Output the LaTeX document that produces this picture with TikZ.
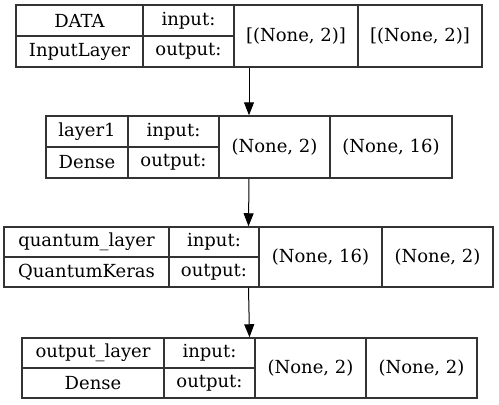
\documentclass[tikz,border=0pt]{standalone}
\usepackage{fontspec}
\setmainfont{DejaVu Serif}
\usetikzlibrary{arrows.meta, fit}

\tikzset{
  cell/.style={draw=black!80, line width=1.1pt, inner sep=0pt, font=\fontsize{18}{20}\selectfont},
  layerbox/.style={inner sep=0pt, draw=none},
  flow/.style={line width=1pt, -{Triangle[length=13pt, width=10pt]}}
}

\begin{document}
\begin{tikzpicture}[x=1pt,y=-1pt]
		\useasboundingbox (0,0) rectangle (499,405);
		% DATA
		\node[cell, minimum width=127pt, minimum height=31pt] (dname) at (79.5,20.5) {DATA};
		\node[cell, minimum width=127pt, minimum height=31pt] (dtype) at (79.5,51.5) {InputLayer};
		\node[cell, minimum width=91pt, minimum height=31pt] (din) at (188.5,20.5) {input:};
		\node[cell, minimum width=91pt, minimum height=31pt] (dout) at (188.5,51.5) {output:};
		\node[cell, minimum width=124pt, minimum height=62pt] (dinshape) at (296,36) {[(None, 2)]};
		\node[cell, minimum width=124pt, minimum height=62pt] (doutshape) at (420,36) {[(None, 2)]};
		\node[layerbox, fit=(dname)(doutshape)] (data) {};
		% layer1
		\node[cell, minimum width=82pt, minimum height=31pt] (lname) at (87,131.5) {layer1};
		\node[cell, minimum width=82pt, minimum height=31pt] (ltype) at (87,162.5) {Dense};
		\node[cell, minimum width=91pt, minimum height=31pt] (lin) at (173.5,131.5) {input:};
		\node[cell, minimum width=91pt, minimum height=31pt] (lout) at (173.5,162.5) {output:};
		\node[cell, minimum width=111pt, minimum height=62pt] (linshape) at (274.5,147) {(None, 2)};
		\node[cell, minimum width=122pt, minimum height=62pt] (loutshape) at (391,147) {(None, 16)};
		\node[layerbox, fit=(lname)(loutshape)] (layer1) {};
		% quantum_layer
		\node[cell, minimum width=165pt, minimum height=30pt] (qname) at (86.5,242) {quantum\_layer};
		\node[cell, minimum width=165pt, minimum height=30pt] (qtype) at (86.5,272) {QuantumKeras};
		\node[cell, minimum width=90pt, minimum height=30pt] (qin) at (214,242) {input:};
		\node[cell, minimum width=90pt, minimum height=30pt] (qout) at (214,272) {output:};
		\node[cell, minimum width=123pt, minimum height=60pt] (qinshape) at (320.5,257) {(None, 16)};
		\node[cell, minimum width=111pt, minimum height=60pt] (qoutshape) at (437.5,257) {(None, 2)};
		\node[layerbox, fit=(qname)(qoutshape)] (quantum) {};
		% output_layer
		\node[cell, minimum width=142pt, minimum height=30pt] (oname) at (93,353) {output\_layer};
		\node[cell, minimum width=142pt, minimum height=30pt] (otype) at (93,383) {Dense};
		\node[cell, minimum width=91pt, minimum height=30pt] (oin) at (209.5,353) {input:};
		\node[cell, minimum width=91pt, minimum height=30pt] (oout) at (209.5,383) {output:};
		\node[cell, minimum width=111pt, minimum height=60pt] (oinshape) at (310.5,368) {(None, 2)};
		\node[cell, minimum width=111pt, minimum height=60pt] (ooutshape) at (421.5,368) {(None, 2)};
		\node[layerbox, fit=(oname)(ooutshape)] (output) {};
		% arrows
		\draw[flow] (data.south) -- (layer1.north);
		\draw[flow] (layer1.south) -- (quantum.north);
		\draw[flow] (quantum.south) -- (output.north);
	\end{tikzpicture}
\end{document}
